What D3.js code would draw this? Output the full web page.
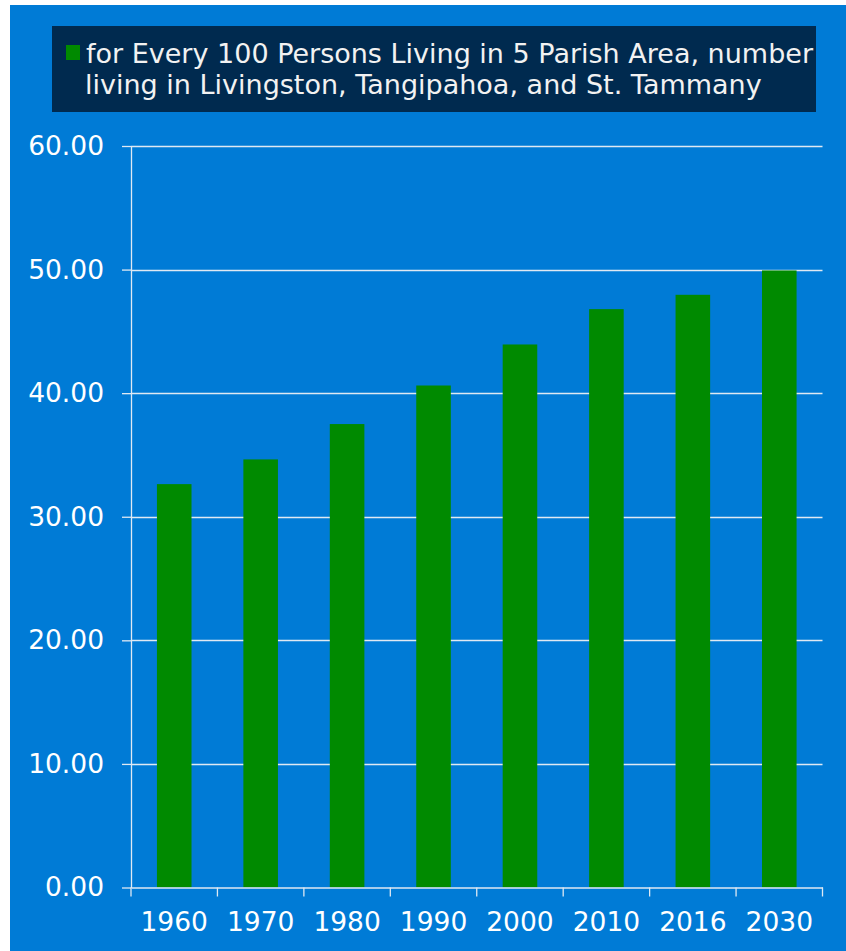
<!DOCTYPE html>
<html>
<head>
<meta charset="utf-8">
<script src="https://cdn.jsdelivr.net/npm/d3@7"></script>
<style>
  html, body { margin: 0; padding: 0; background: #ffffff; }
  svg { display: block; }
</style>
</head>
<body>
<div id="chart"></div>
<script>
// data
const years = ["1960", "1970", "1980", "1990", "2000", "2010", "2016", "2030"];
const values = [32.64, 34.64, 37.5, 40.62, 43.94, 46.8, 47.96, 49.93];
const yTicks = [0, 10, 20, 30, 40, 50, 60];
const legendLines = [
    "for Every 100 Persons Living in 5 Parish Area, number",
    "living in Livingston, Tangipahoa, and St. Tammany"
];

const font = "Verdana, 'DejaVu Sans', sans-serif";
const blue = "#007bd6";
const green = "#008a00";
const gridColor = "#dfe9f3";

const svg = d3.select("#chart")
    .append("svg")
    .attr("width", 846)
    .attr("height", 951);

// blue panel
svg.append("rect")
    .attr("x", 10)
    .attr("y", 5)
    .attr("width", 836)
    .attr("height", 946)
    .attr("fill", blue);

// legend box
svg.append("rect")
    .attr("x", 52)
    .attr("y", 26)
    .attr("width", 764)
    .attr("height", 86)
    .attr("fill", "#002a4f");

svg.append("rect")
    .attr("x", 66)
    .attr("y", 45)
    .attr("width", 14)
    .attr("height", 15)
    .attr("fill", green);

svg.append("g")
    .selectAll("text")
    .data(legendLines)
    .join("text")
    .attr("x", (d, i) => i == 0 ? 86 : 85)
    .attr("y", (d, i) => 63 + i * 31)
    .attr("fill", "#f2f2f2")
    .style("font-family", font)
    .style("font-size", "27px")
    .text(d => d);

const x = d3.scaleBand()
    .domain(years)
    .range([131, 822.5])
    .paddingInner(0.6)
    .paddingOuter(0.3);

const y = d3.scaleLinear()
    .domain([0, 60])
    .range([887.5, 146]);

// gridlines
svg.append("g")
    .selectAll("line")
    .data(yTicks.filter(d => d > 0))
    .join("line")
    .attr("x1", 131)
    .attr("x2", 822.5)
    .attr("y1", d => Math.round(y(d)) + 0.5)
    .attr("y2", d => Math.round(y(d)) + 0.5)
    .attr("stroke", gridColor)
    .attr("stroke-width", 1.3);

// bars
svg.append("g")
    .selectAll("rect")
    .data(values)
    .join("rect")
    .attr("x", (d, i) => x(years[i]))
    .attr("y", d => y(d))
    .attr("width", x.bandwidth())
    .attr("height", d => y(0) - y(d))
    .attr("fill", green);

// y axis
const yAxis = svg.append("g")
    .attr("transform", "translate(131,0)")
    .call(d3.axisLeft(y).tickValues(yTicks).tickFormat(d3.format(".2f")).tickSize(9).tickSizeOuter(0));

yAxis.select(".domain").attr("stroke", gridColor).attr("stroke-width", 1.3);
yAxis.selectAll(".tick line").attr("stroke", gridColor).attr("stroke-width", 1.3);
yAxis.selectAll(".tick text")
    .attr("x", -27)
    .attr("fill", "#ffffff")
    .style("font-family", font)
    .style("font-size", "26.5px");

// x axis, ticks on band edges
const xAxis = svg.append("g")
    .attr("transform", "translate(0,887.5)")
    .call(d3.axisBottom(x).tickSize(0).tickSizeOuter(0));

xAxis.select(".domain").attr("stroke", gridColor).attr("stroke-width", 1.3);
xAxis.selectAll(".tick text")
    .attr("y", 43)
    .attr("dy", null)
    .attr("fill", "#ffffff")
    .style("font-family", font)
    .style("font-size", "26.5px");

xAxis.selectAll(".edge")
    .data(d3.range(years.length + 1))
    .join("line")
    .attr("class", "edge")
    .attr("x1", i => 131 + i * (691.5 / years.length))
    .attr("x2", i => 131 + i * (691.5 / years.length))
    .attr("y1", 0)
    .attr("y2", 9)
    .attr("stroke", gridColor)
    .attr("stroke-width", 1.3);

svg.selectAll(".domain, .tick, text").attr("font-family", null);
</script>
</body>
</html>
